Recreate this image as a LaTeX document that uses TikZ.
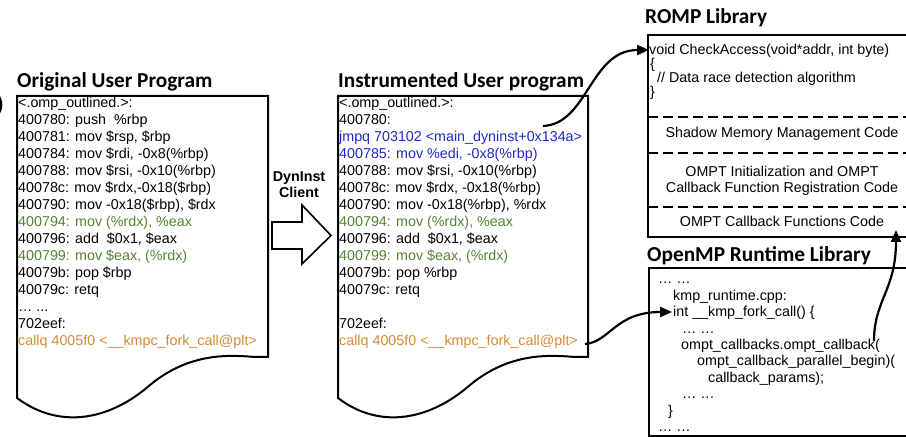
\documentclass[tikz,border=0pt]{standalone}
\usepackage{fontspec}
\setmainfont{Liberation Sans}
\newfontfamily\titlefont{Carlito}
\usetikzlibrary{arrows.meta}
\definecolor{codegreen}{RGB}{84,130,53}
\definecolor{codeblue}{RGB}{30,40,200}
\definecolor{codeorange}{RGB}{210,140,50}
\begin{document}
\begin{tikzpicture}[x=1pt,y=-1pt,
  code/.style={anchor=base west, inner sep=0pt, font=\fontsize{14.3}{17}\selectfont},
  ctr/.style={anchor=base, inner sep=0pt, font=\fontsize{14.3}{17}\selectfont},
  ttl/.style={anchor=base west, inner sep=0pt, font=\titlefont\bfseries\fontsize{21.3}{24}\selectfont},
  lbl/.style={anchor=base, inner sep=0pt, font=\bfseries\fontsize{14.3}{17}\selectfont},
  frame/.style={line width=2pt},
  sep/.style={line width=2pt, dash pattern=on 9.5pt off 5.5pt},
  conn/.style={line width=2.2pt, -{Triangle[length=12pt,width=10pt]}},
  blockarrow/.style={line width=1.6pt, line join=miter}
]
\useasboundingbox (0,0) rectangle (906,438);

% cropped label at left edge
\node[anchor=base east, inner sep=0pt, font=\titlefont\bfseries\fontsize{21.3}{24}\selectfont] (paren) at (4,112) {)};

% ---------- Original user program ----------
\node[ttl] (t1) at (17,88) {Original User Program};
\draw[frame] (17,96) -- (268,96) -- (268,357) -- (255,357)
  .. controls (230,355) and (190,352) .. (150,385)
  .. controls (110,420) and (60,430) .. (17,398) -- cycle;
\node[code] (l1) at (18,108) {<.omp\_outlined.>:};
\node[code] (l2) at (18,125) {400780: push\ \ \%rbp};
\node[code] (l3) at (18,142) {400781: mov \$rsp, \$rbp};
\node[code] (l4) at (18,159) {400784: mov \$rdi, -0x8(\%rbp)};
\node[code] (l5) at (18,176) {400788: mov \$rsi, -0x10(\%rbp)};
\node[code] (l6) at (18,193) {40078c: mov \$rdx,-0x18(\$rbp)};
\node[code] (l7) at (18,210) {400790: mov -0x18(\$rbp), \$rdx};
\node[code, text=codegreen] (l8) at (18,227) {400794: mov (\%rdx), \%eax};
\node[code] (l9) at (18,244) {400796: add\ \ \$0x1, \$eax};
\node[code, text=codegreen] (l10) at (18,261) {400799: mov \$eax, (\%rdx)};
\node[code] (l11) at (18,278) {40079b: pop \$rbp};
\node[code] (l12) at (18,295) {40079c: retq};
\node[code] (l13) at (18,312) {… ...};
\node[code] (l14) at (18,329) {702eef:};
\node[code, text=codeorange] (l15) at (18,346) {callq 4005f0 <\_\_kmpc\_fork\_call@plt>};

% ---------- DynInst client arrow ----------
\node[lbl] (dyn) at (299,182) {DynInst};
\node[lbl] (cli) at (299,198) {Client};
\draw[blockarrow] (272,222) -- (302,222) -- (302,205) -- (331,235.5) -- (302,264) -- (302,249) -- (272,249) -- cycle;

% ---------- Instrumented user program ----------
\node[ttl] (t2) at (338,88) {Instrumented User program};
\draw[frame] (338,96) -- (588,96) -- (588,357) -- (575,357)
  .. controls (550,355) and (510,352) .. (470,385)
  .. controls (430,420) and (380,430) .. (338,398) -- cycle;
\node[code] (m1) at (339,108) {<.omp\_outlined.>:};
\node[code] (m2) at (339,125) {400780:};
\node[code, text=codeblue] (m3) at (339,142) {jmpq 703102 <main\_dyninst+0x134a>};
\node[code, text=codeblue] (m4) at (339,159) {400785: mov \%edi, -0x8(\%rbp)};
\node[code] (m5) at (339,176) {400788: mov \$rsi, -0x10(\%rbp)};
\node[code] (m6) at (339,193) {40078c: mov \$rdx, -0x18(\%rbp)};
\node[code] (m7) at (339,210) {400790: mov -0x18(\%rbp), \%rdx};
\node[code, text=codegreen] (m8) at (339,227) {400794: mov (\%rdx), \%eax};
\node[code] (m9) at (339,244) {400796: add\ \ \$0x1, \$eax};
\node[code, text=codegreen] (m10) at (339,261) {400799: mov \$eax, (\%rdx)};
\node[code] (m11) at (339,278) {40079b: pop \%rbp};
\node[code] (m12) at (339,295) {40079c: retq};
\node[code] (m14) at (339,329) {702eef:};
\node[code, text=codeorange] (m15) at (339,346) {callq 4005f0 <\_\_kmpc\_fork\_call@plt>};

% ---------- ROMP library ----------
\node[ttl] (t3) at (645,24) {ROMP Library};
\draw[frame] (648,35) rectangle (918,237);
\draw[sep] (648,117) -- (918,117);
\draw[sep] (648,153) -- (918,153);
\draw[sep] (648,207) -- (918,207);
\node[code] (r1) at (649,55) {void CheckAccess(void*addr, int byte)};
\node[code] (r2) at (650,69) {\{};
\node[code] (r3) at (657,83) {// Data race detection algorithm};
\node[code] (r4) at (650,97) {\}};
\node[ctr] (r5) at (782,138) {Shadow Memory Management Code};
\node[ctr] (r6) at (782,177) {OMPT Initialization and OMPT};
\node[ctr] (r7) at (782,193) {Callback Function Registration Code};
\node[ctr] (r8) at (782,227) {OMPT Callback Functions Code};

% ---------- OpenMP runtime library ----------
\node[ttl] (t4) at (647,262) {OpenMP Runtime Library};
\draw[frame] (649,268) rectangle (918,436);
\node[code] (o1) at (658,284) {… …};
\node[code] (o2) at (673,300.4) {kmp\_runtime.cpp:};
\node[code] (o3) at (673,316.8) {int \_\_kmp\_fork\_call() \{};
\node[code] (o4) at (682,333.2) {… …};
\node[code] (o5) at (681,349.6) {ompt\_callbacks.ompt\_callback(};
\node[code] (o6) at (697,366) {ompt\_callback\_parallel\_begin)(};
\node[code] (o7) at (708,382.4) {callback\_params);};
\node[code] (o8) at (682,398.8) {… …};
\node[code] (o9) at (668,415.2) {\}};
\node[code] (o10) at (658,431.6) {… …};

% ---------- connectors ----------
\coordinate (a1s) at (543,126);
\coordinate (a1e) at (649,50);
\draw[conn] (a1s) .. controls (588,124) and (590,50) .. (a1e);
\coordinate (a2s) at (585,344);
\coordinate (a2e) at (672,312);
\draw[conn] (a2s) .. controls (610,342) and (615,312) .. (a2e);
\coordinate (a3s) at (874,341);
\coordinate (a3e) at (896,230);
\draw[conn] (a3s) .. controls (874,300) and (896,290) .. (a3e);
\end{tikzpicture}
\end{document}
